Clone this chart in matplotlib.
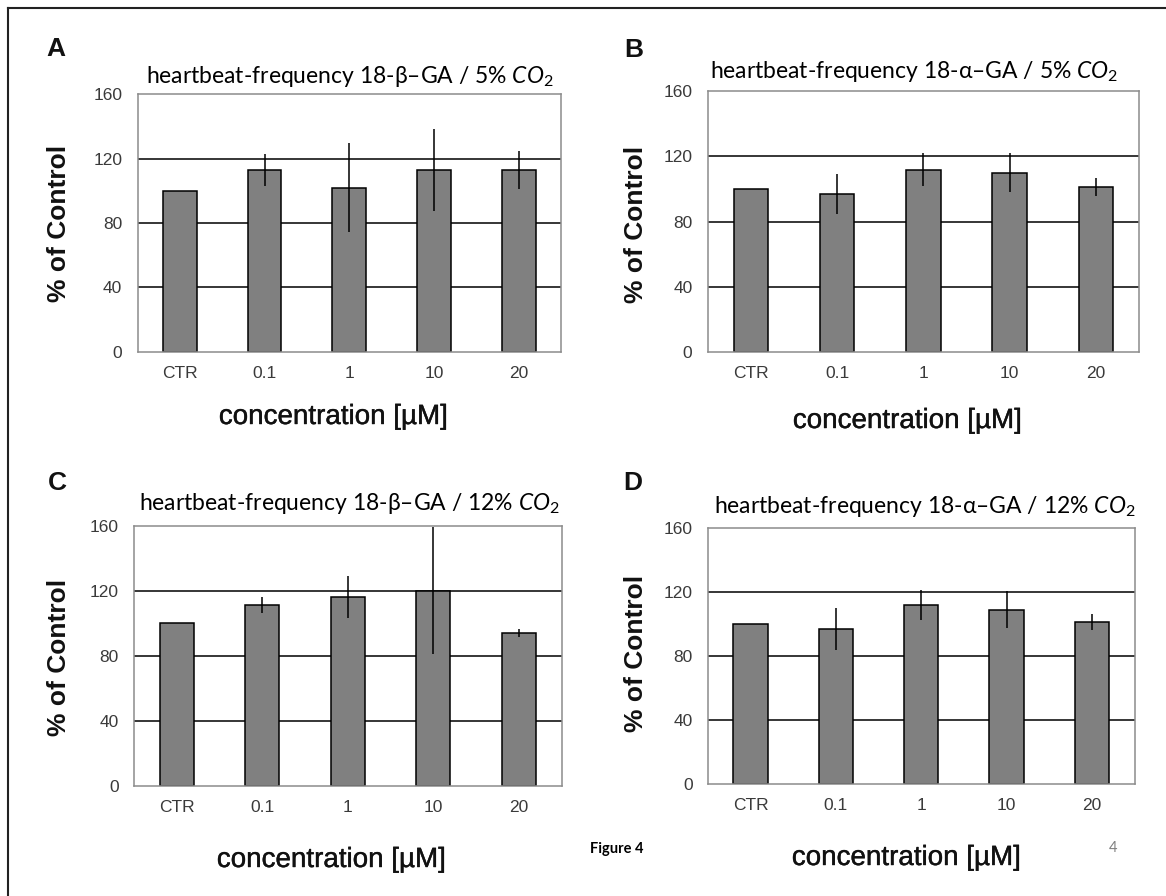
import matplotlib
matplotlib.use('Agg')
import matplotlib.pyplot as plt
import matplotlib.patheffects as pe
from matplotlib.lines import Line2D

plt.rcParams['mathtext.fontset'] = 'custom'
plt.rcParams['mathtext.rm'] = 'Lato'
plt.rcParams['mathtext.it'] = 'Lato:italic'

W, H = 1166, 896

categories = ['CTR', '0.1', '1', '10', '20']
yticks = [0, 40, 80, 120, 160]
grid_levels = [40, 80, 120]

beta_5_mean = [100, 113, 102, 113, 113]
beta_5_err = [0, 10, 27.5, 25.5, 12]
alpha_5_mean = [100, 97, 112, 110, 101]
alpha_5_err = [0, 12.5, 10, 12, 5.5]
beta_12_mean = [100, 111, 116, 120, 94]
beta_12_err = [0, 5, 13, 39, 2.5]
alpha_12_mean = [100, 97, 112, 109, 101]
alpha_12_err = [0, 13, 9.5, 11.5, 5]

titles = ['heartbeat-frequency 18-β–GA / 5% $CO_2$',
          'heartbeat-frequency 18-α–GA / 5% $CO_2$',
          'heartbeat-frequency 18-β–GA / 12% $CO_2$',
          'heartbeat-frequency 18-α–GA / 12% $CO_2$']
letters = ['A', 'B', 'C', 'D']

# panel layout in pixels: (left, top, right, bottom)
boxes = [(137.5, 94.3, 561, 351.7),
         (707.7, 91.3, 1139, 352),
         (134, 525.5, 561.5, 785.7),
         (707.8, 528, 1134.6, 784)]
title_pos = [(350, 83), (914, 78), (349, 510), (925, 513)]
letter_pos = [(56, 49), (634, 50), (57, 483), (633, 483)]
ylabel_pos = [(59, 223), (636, 224), (59, 657), (636, 653)]
xlabel_pos = [(333, 417), (907, 421), (331, 860), (906, 858)]

data = [(beta_5_mean, beta_5_err), (alpha_5_mean, alpha_5_err),
        (beta_12_mean, beta_12_err), (alpha_12_mean, alpha_12_err)]


def fx(x):
    return x / W


def fy(y):
    return 1 - y / H


fig = plt.figure(figsize=(W / 100, H / 100), dpi=100)

for i in range(4):
    l, t, r, b = boxes[i]
    ax = fig.add_axes([fx(l), fy(b), (r - l) / W, (b - t) / H])
    means, errs = data[i]
    xs = list(range(len(categories)))
    for g in grid_levels:
        ax.axhline(g, color='black', lw=1.1, zorder=1)
    ax.bar(xs, means, width=0.4, color='#808080', edgecolor='black', linewidth=1.1, zorder=2)
    ax.errorbar(xs, means, yerr=errs, fmt='none', ecolor='black', elinewidth=1.1, capsize=0, zorder=3)
    ax.set_xlim(-0.5, 4.5)
    ax.set_ylim(0, 160)
    ax.set_yticks(yticks)
    ax.set_xticks(xs)
    ax.set_xticklabels(categories)
    ax.tick_params(axis='both', length=0, labelsize=12.5, labelcolor='#3a3a3a')
    ax.tick_params(axis='y', pad=11)
    ax.tick_params(axis='x', pad=10)
    for lab in ax.get_xticklabels() + ax.get_yticklabels():
        lab.set_family('Liberation Sans')
    for s in ax.spines.values():
        s.set_color('#8c8c8c')
        s.set_linewidth(1.1)

    fig.text(fx(title_pos[i][0]), fy(title_pos[i][1]), titles[i], ha='center', va='baseline',
             fontsize=16.5, family=['Lato', 'DejaVu Sans'], color='black')
    fig.text(fx(letter_pos[i][0]), fy(letter_pos[i][1]), letters[i], ha='center', va='center',
             fontsize=19, weight='bold', family='Liberation Sans', color='#111111')
    fig.text(fx(ylabel_pos[i][0]), fy(ylabel_pos[i][1]), '% of Control', rotation=90,
             ha='center', va='center', fontsize=19, weight='bold', family='Liberation Sans', color='#111111')
    fig.text(fx(xlabel_pos[i][0]), fy(xlabel_pos[i][1]), 'concentration [µM]',
             ha='center', va='center', fontsize=20, family='Liberation Sans', color='#111111',
             path_effects=[pe.withStroke(linewidth=0.3, foreground='#111111')])

fig.text(fx(617), fy(849), 'Figure 4', ha='center', va='center', fontsize=10.5,
         weight='bold', family='Lato', color='black')
fig.text(fx(1113), fy(848), '4', ha='center', va='center', fontsize=10.5,
         family='Lato', color='#808080')

# page frame: top and left edges
fig.add_artist(Line2D([fx(7.5), 1], [fy(8), fy(8)], color='#222222', lw=1.5))
fig.add_artist(Line2D([fx(7.5), fx(7.5)], [fy(8), 0], color='#222222', lw=1.5))

fig.savefig('out.png', dpi=100)
